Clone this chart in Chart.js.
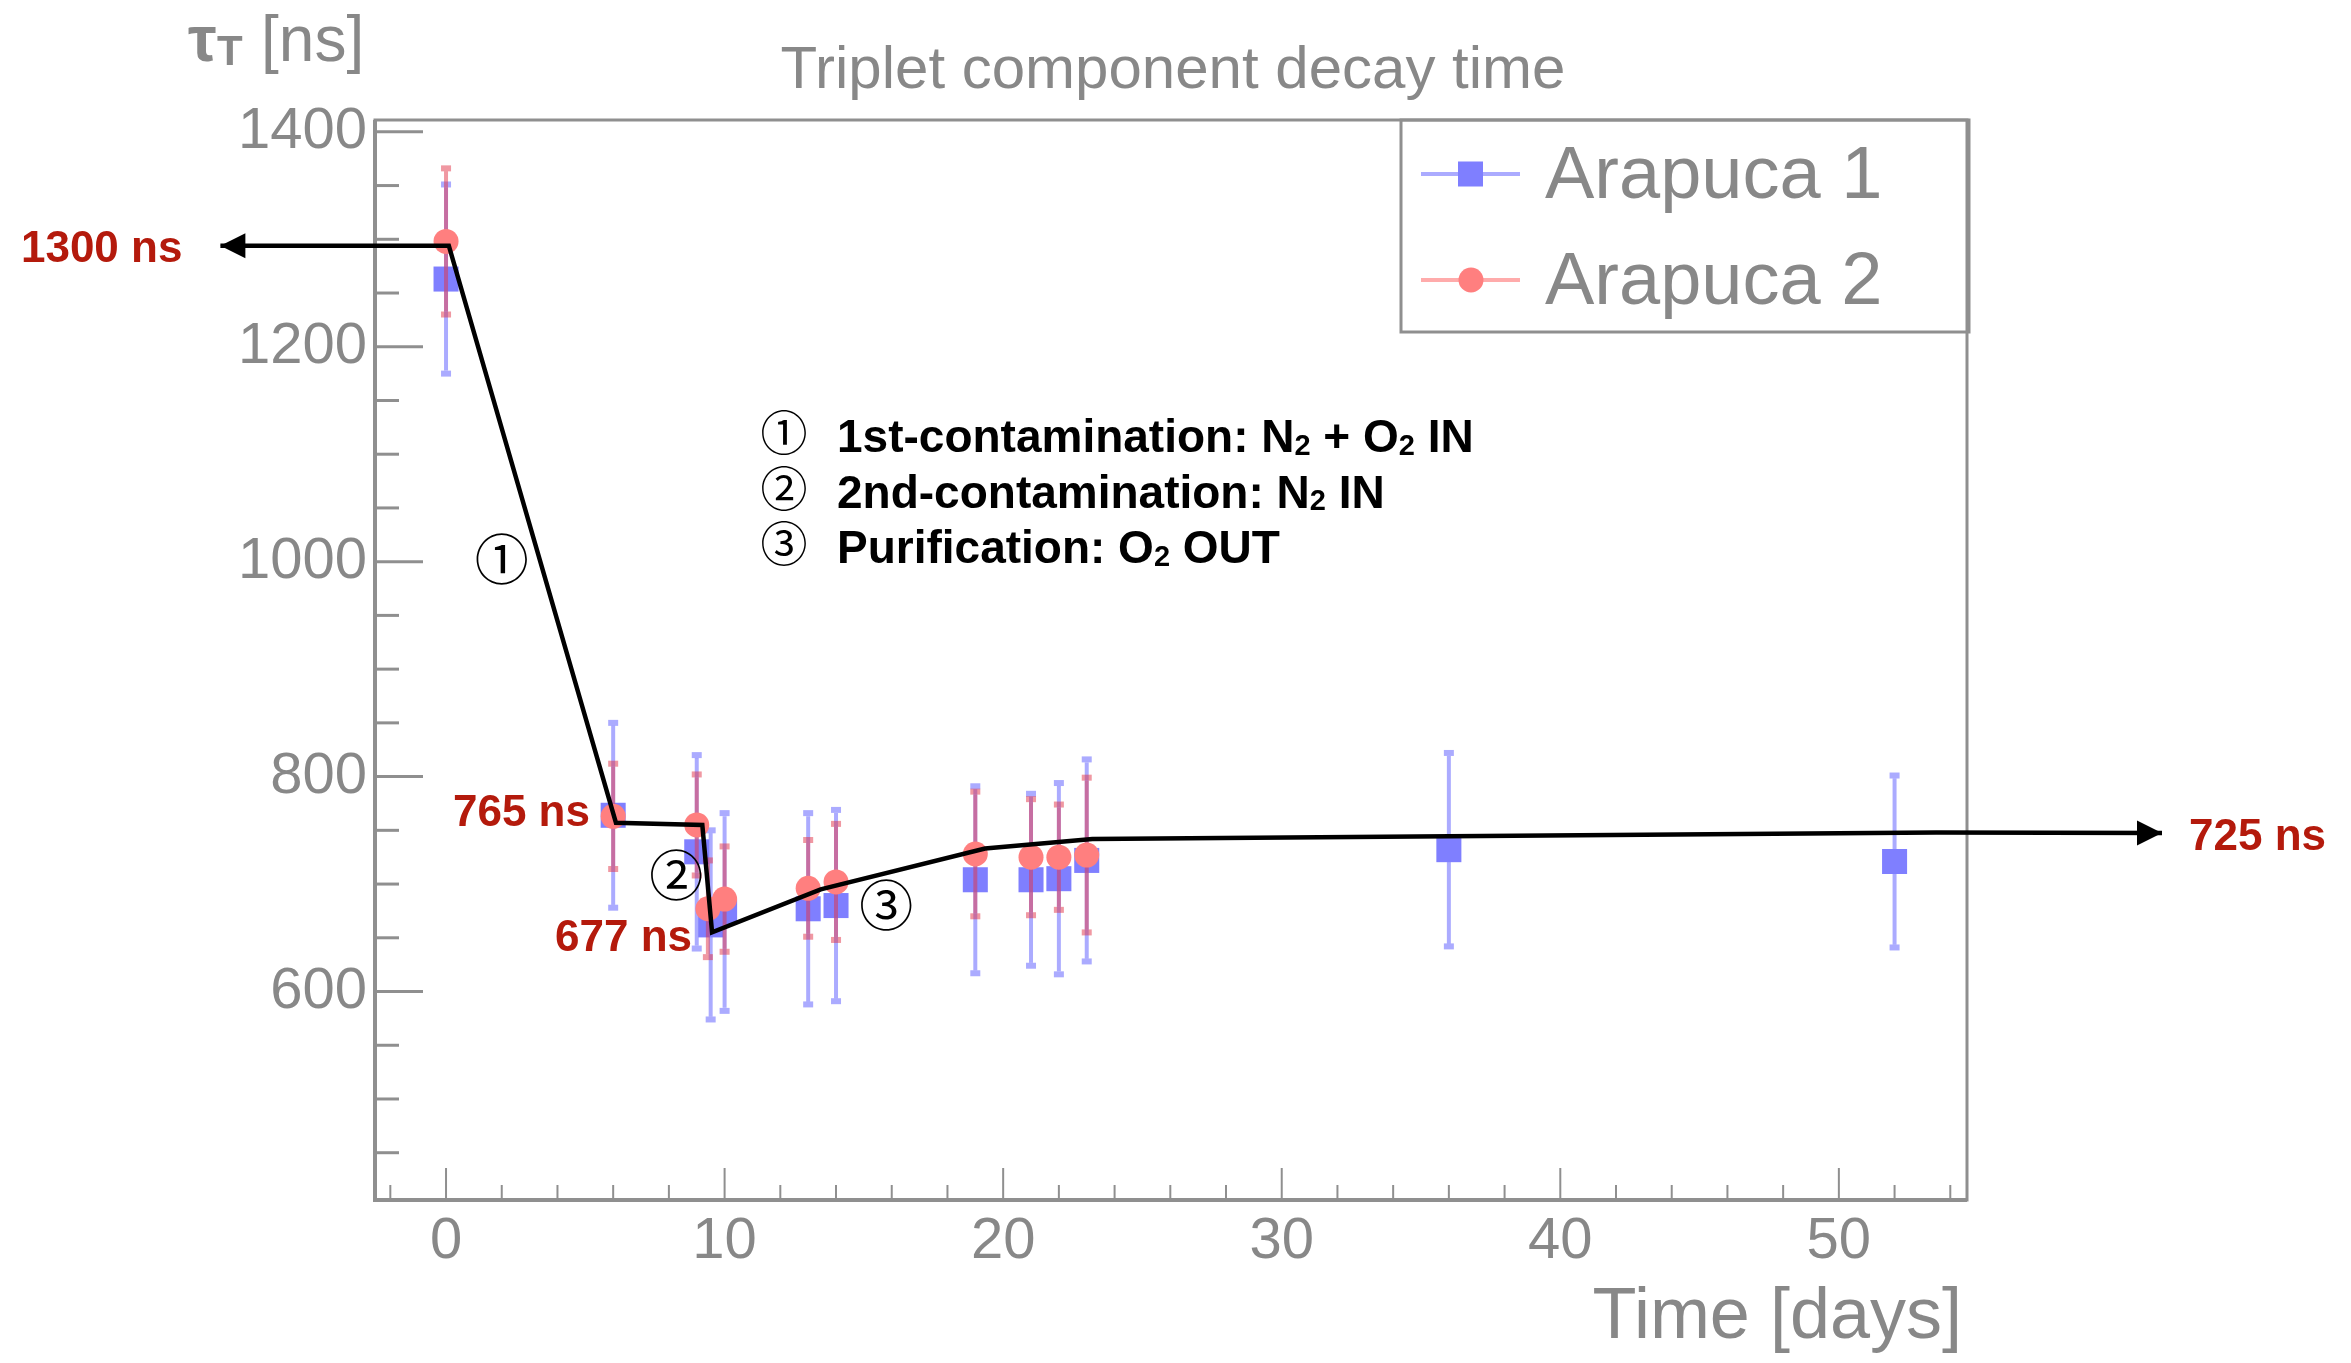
<!DOCTYPE html>
<html>
<head>
<meta charset="utf-8">
<title>Triplet component decay time</title>
<script src="https://cdn.jsdelivr.net/npm/chart.js@4.4.0/dist/chart.umd.min.js"></script>
<style>
  html, body { margin: 0; padding: 0; background: #fff; }
  #wrap { width: 2351px; height: 1363px; }
</style>
</head>
<body>
<div id="wrap"><canvas id="tauChart" width="2351" height="1363"></canvas></div>
<script>
// Arapuca 1 (blue squares): time [days], tau_T [ns], error [ns]
const days1 = [0, 6, 9, 9.5, 10, 13, 14, 19, 21, 22, 23, 36, 52];
const tau1  = [1263, 764, 730, 662, 674, 677, 680, 704, 704, 705, 722, 732, 721];
const err1  = [88, 86, 90, 88, 92, 89, 89, 87, 80, 89, 94, 90, 80];

// Arapuca 2 (red circles)
const days2 = [0, 6, 9, 9.4, 10, 13, 14, 19, 21, 22, 23];
const tau2  = [1298, 763, 755, 677, 686, 696, 702, 728, 725, 725, 727];
const err2  = [68, 49, 47, 45, 49, 45, 54, 58, 54, 49, 72];

// hand-drawn trend line (with arrows at both ends)
const pathDays = [-8.1, 0.1, 6.1, 9.2, 9.55, 13.45, 19.35, 23.2, 53.5, 61.6];
const pathTau  = [1294, 1294, 757, 755, 655, 695, 733, 742, 748, 747.5];

// axis ticks
const xTicks = [0, 10, 20, 30, 40, 50];
const yTicks = [600, 800, 1000, 1200, 1400];

const GRAY = '#888888';
const AXIS = '#8f8f8f';
const RED_TXT = '#b41a0c';
const SANS = '"Liberation Sans", Arial, Helvetica, sans-serif';
const CIRC = '"Noto Sans CJK JP", "DejaVu Sans", sans-serif';

const toPts = (xs, ys) => xs.map((d, i) => ({ x: d, y: ys[i] }));

// 1. Error bars, drawn just before each dataset's markers
const errorBars = {
    id: 'errorBars',
    beforeDatasetDraw(chart, args) {
        const ds = chart.data.datasets[args.index];
        if (!ds.errs) return;
        const { x, y } = chart.scales;
        const c = chart.ctx;
        c.save();
        c.strokeStyle = ds.errColor;
        c.fillStyle = ds.errColor;
        c.lineWidth = 4;
        ds.data.forEach((p, i) => {
            const px = x.getPixelForValue(p.x);
            const top = y.getPixelForValue(p.y + ds.errs[i]);
            const bot = y.getPixelForValue(p.y - ds.errs[i]);
            c.beginPath();
            c.moveTo(px, top + 3);
            c.lineTo(px, bot - 3);
            c.stroke();
            c.fillRect(px - 5, top - 3, 10, 6);
            c.fillRect(px - 5, bot - 3, 10, 6);
        });
        c.restore();
    }
};

// 2. ROOT style frame with ticks pointing inside
const frame = {
    id: 'frame',
    beforeDatasetsDraw(chart) {
        const { ctx: c, chartArea: a, scales: { x, y } } = chart;
        c.save();
        c.strokeStyle = AXIS;
        c.lineWidth = 3;
        c.strokeRect(a.left, a.top, a.right - a.left, a.bottom - a.top);
        c.lineWidth = 4;
        c.beginPath();
        c.moveTo(a.left, a.top); c.lineTo(a.left, a.bottom); c.lineTo(a.right, a.bottom);
        c.stroke();

        c.lineWidth = 3;
        for (let v = 450; v <= 1400; v += 50) {
            const py = y.getPixelForValue(v);
            const len = yTicks.includes(v) ? 48 : 24;
            c.beginPath(); c.moveTo(a.left, py); c.lineTo(a.left + len, py); c.stroke();
        }
        c.lineWidth = 2;
        for (let v = -2; v <= 54; v += 2) {
            const px = x.getPixelForValue(v);
            const len = xTicks.includes(v) ? 32 : 15;
            c.beginPath(); c.moveTo(px, a.bottom); c.lineTo(px, a.bottom - len); c.stroke();
        }
        c.restore();
    }
};

// draws text pieces, some of them as subscripts
function drawRich(c, parts, x, y, size, weight) {
    parts.forEach(p => {
        const s = p.sub ? Math.round(size * 0.64) : size;
        c.font = `${weight} ${s}px ${SANS}`;
        c.fillText(p.t, x, y + (p.sub ? size * 0.06 : 0));
        x += c.measureText(p.t).width;
    });
}

function arrowHead(c, tx, ty, dir) {
    c.beginPath();
    c.moveTo(tx, ty);
    c.lineTo(tx - dir * 25, ty - 12.5);
    c.lineTo(tx - dir * 25, ty + 12.5);
    c.closePath();
    c.fill();
}

// 3. Titles, legend and annotations
const annotations = {
    id: 'annotations',
    afterDraw(chart) {
        const { ctx: c, chartArea: a, scales: { x, y } } = chart;
        const X = v => x.getPixelForValue(v);
        const Y = v => y.getPixelForValue(v);
        c.save();
        c.textBaseline = 'alphabetic';

        // plot title
        c.fillStyle = GRAY;
        c.textAlign = 'center';
        c.font = `60px ${SANS}`;
        c.fillText('Triplet component decay time', 1173, 88);

        // y axis title  tau_T [ns]
        c.textAlign = 'left';
        c.font = `bold 64px ${SANS}`;
        c.fillText('τ', 188, 61);
        c.font = `bold 42px ${SANS}`;
        c.fillText('T', 217, 65);
        c.font = `64px ${SANS}`;
        c.fillText('[ns]', 261, 61);

        // x axis title
        c.textAlign = 'right';
        c.font = `72px ${SANS}`;
        c.fillText('Time [days]', a.right - 5, 1338);

        // legend box
        const lx = a.right - 566, ly = a.top;
        c.strokeStyle = AXIS;
        c.lineWidth = 3;
        c.strokeRect(lx, ly, 568, 212);
        const entries = [
            { label: 'Arapuca 1', line: 'rgba(0,0,255,0.33)', fill: '#7f7fff', shape: 'rect', cy: ly + 54 },
            { label: 'Arapuca 2', line: 'rgba(255,0,0,0.33)', fill: '#ff7f7f', shape: 'circle', cy: ly + 160 }
        ];
        entries.forEach(e => {
            c.strokeStyle = e.line;
            c.lineWidth = 4;
            c.beginPath(); c.moveTo(lx + 20, e.cy); c.lineTo(lx + 119, e.cy); c.stroke();
            c.fillStyle = e.fill;
            if (e.shape === 'rect') c.fillRect(lx + 57, e.cy - 12.5, 25, 25);
            else { c.beginPath(); c.arc(lx + 70, e.cy, 12.5, 0, Math.PI * 2); c.fill(); }
            c.fillStyle = GRAY;
            c.textAlign = 'left';
            c.font = `74px ${SANS}`;
            c.fillText(e.label, lx + 144, e.cy + 24);
        });

        // list of the three phases
        const lines = [
            ['①', [{ t: '1st-contamination: N' }, { t: '2', sub: true }, { t: ' + O' }, { t: '2', sub: true }, { t: ' IN' }]],
            ['②', [{ t: '2nd-contamination: N' }, { t: '2', sub: true }, { t: ' IN' }]],
            ['③', [{ t: 'Purification: O' }, { t: '2', sub: true }, { t: ' OUT' }]]
        ];
        lines.forEach((ln, i) => {
            const base = 452 + i * 55.5;
            c.fillStyle = '#000';
            c.textAlign = 'center';
            c.font = `47px ${CIRC}`;
            c.fillText(ln[0], 784, base - 2);
            c.textAlign = 'left';
            drawRich(c, ln[1], 837, base, 46, 'bold');
        });

        // circled step numbers beside the trend line
        c.textAlign = 'center';
        c.textBaseline = 'middle';
        c.font = `54px ${CIRC}`;
        c.fillText('①', X(2.0), Y(1002));
        c.fillText('②', X(8.26), Y(708));
        c.fillText('③', X(15.8), Y(680));

        // arrow heads of the trend line
        const n = pathDays.length - 1;
        arrowHead(c, X(pathDays[0]), Y(pathTau[0]), -1);
        arrowHead(c, X(pathDays[n]), Y(pathTau[n]), 1);

        // red value labels
        c.fillStyle = RED_TXT;
        c.textBaseline = 'alphabetic';
        c.font = `bold 44px ${SANS}`;
        c.textAlign = 'right';
        c.fillText('1300 ns', X(pathDays[0]) - 38, Y(pathTau[0]) + 16);
        c.fillText('765 ns', X(pathDays[2]) - 26, Y(pathTau[2]) + 3);
        c.fillText('677 ns', X(pathDays[4]) - 20, Y(pathTau[4]) + 19);
        c.textAlign = 'left';
        c.fillText('725 ns', X(pathDays[n]) + 27, Y(pathTau[n]) + 17);
        c.restore();
    }
};

// 4. The chart
const ctx = document.getElementById('tauChart');
const tickFont = { family: SANS, size: 58 };

new Chart(ctx, {
    type: 'scatter',
    data: {
        datasets: [{
            label: 'Arapuca 1',
            data: toPts(days1, tau1),
            errs: err1,
            errColor: 'rgba(0,0,255,0.33)',
            pointStyle: 'rect',
            pointRadius: 17.7,
            backgroundColor: '#7f7fff',
            borderWidth: 0,
            order: 3
        }, {
            label: 'Arapuca 2',
            data: toPts(days2, tau2),
            errs: err2,
            errColor: 'rgba(225,50,70,0.5)',
            pointStyle: 'circle',
            pointRadius: 12.5,
            backgroundColor: '#ff7f7f',
            borderWidth: 0,
            order: 2
        }, {
            label: 'trend',
            data: toPts(pathDays, pathTau),
            showLine: true,
            pointRadius: 0,
            borderColor: '#000',
            borderWidth: 4.5,
            borderJoinStyle: 'miter',
            clip: false,
            order: 1
        }]
    },
    options: {
        responsive: false,
        animation: false,
        devicePixelRatio: 1,
        layout: { padding: { top: 120, right: 384, left: 0, bottom: 0 } },
        plugins: {
            legend: { display: false },
            title: { display: false },
            tooltip: { enabled: false }
        },
        scales: {
            x: {
                type: 'linear',
                min: -2.55,
                max: 54.6,
                grid: { display: false, drawTicks: false },
                border: { display: false },
                afterBuildTicks: s => { s.ticks = xTicks.map(v => ({ value: v })); },
                afterFit: s => { s.height = 163; },
                ticks: { font: tickFont, color: GRAY, padding: 7, maxRotation: 0, autoSkip: false, callback: v => String(v) }
            },
            y: {
                type: 'linear',
                min: 406,
                max: 1411,
                grid: { display: false, drawTicks: false },
                border: { display: false },
                afterBuildTicks: s => { s.ticks = yTicks.map(v => ({ value: v })); },
                afterFit: s => { s.width = 375; },
                ticks: { font: tickFont, color: GRAY, padding: 8, autoSkip: false, callback: v => String(v) }
            }
        }
    },
    plugins: [frame, errorBars, annotations]
});
</script>
</body>
</html>
